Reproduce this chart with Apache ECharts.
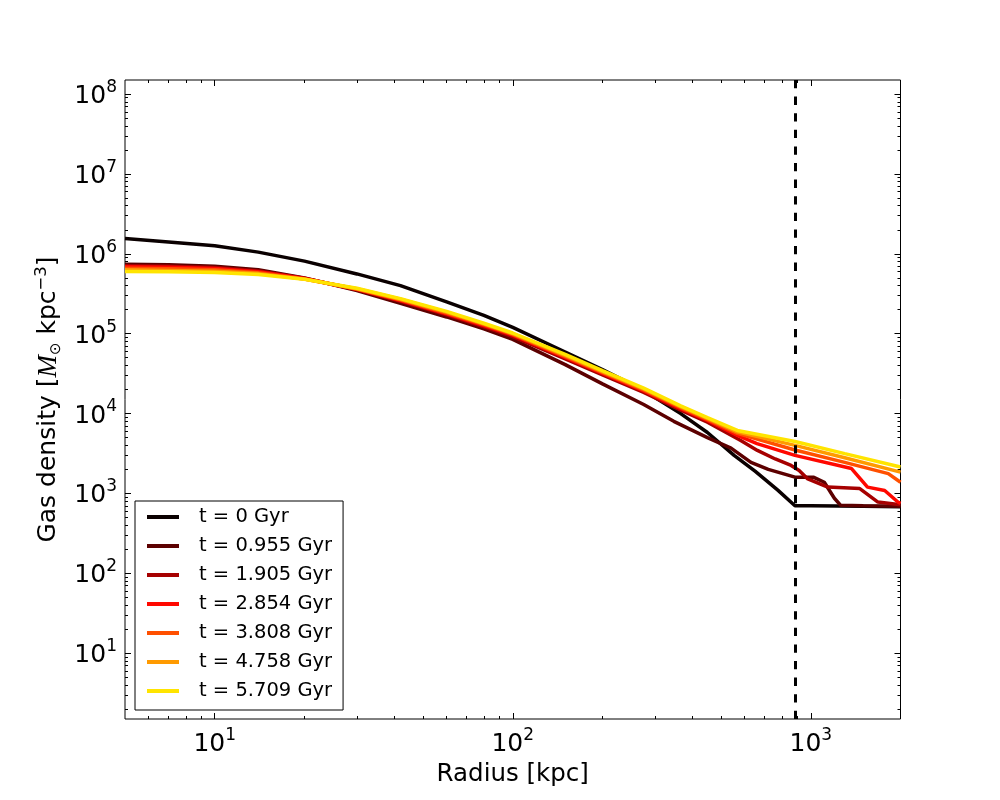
<!DOCTYPE html>
<html>
<head>
<meta charset="utf-8">
<script src="https://cdn.jsdelivr.net/npm/echarts@6/dist/echarts.min.js"></script>
<style>
  html, body { margin: 0; padding: 0; background: #fff; }
  #chart { width: 1000px; height: 800px; }
</style>
</head>
<body>
<div id="chart"></div>
<script>
// ==================== 数据 ====================

// 时间标签
const timeLabels = ['t = 0 Gyr', 't = 0.955 Gyr', 't = 1.905 Gyr', 't = 2.854 Gyr',
  't = 3.808 Gyr', 't = 4.758 Gyr', 't = 5.709 Gyr'];

// 颜色 (hot colormap)
const lineColors = ['#0a0000', '#5c0000', '#a60000', '#ff0800', '#ff5000', '#ff9a00', '#ffe400'];

// 每条曲线 [radius kpc, density Msun/kpc^3]
const profileT0 = [[5, 1.55e6], [7, 1.41e6], [10, 1.26e6], [14, 1.05e6], [20, 8.1e5], [30, 5.6e5],
  [42, 4.0e5], [60, 2.5e5], [80, 1.7e5], [100, 1.2e5], [150, 5.9e4], [200, 3.55e4], [275, 1.95e4],
  [366, 1.0e4], [450, 5.8e3], [553, 3.0e3], [650, 1.9e3], [775, 1.1e3], [885, 700], [1000, 700],
  [1500, 690], [2000, 680]];

const profileT1 = [[5, 7.4e5], [7, 7.3e5], [10, 7.0e5], [14, 6.3e5], [20, 5.0e5], [30, 3.47e5],
  [42, 2.4e5], [60, 1.62e5], [80, 1.15e5], [100, 8.5e4], [150, 4.1e4], [200, 2.35e4], [275, 1.3e4],
  [347, 8.0e3], [450, 5.0e3], [540, 3.7e3], [630, 2.45e3], [720, 2.0e3], [885, 1.6e3], [1024, 1.59e3],
  [1110, 1.38e3], [1200, 870], [1260, 710], [1500, 700], [2000, 690]];

const profileT2 = [[5, 7.1e5], [7, 7.0e5], [10, 6.75e5], [14, 6.1e5], [20, 4.95e5], [30, 3.55e5],
  [42, 2.55e5], [60, 1.72e5], [80, 1.22e5], [100, 9.2e4], [150, 4.85e4], [200, 3.05e4], [275, 1.84e4],
  [366, 1.1e4], [450, 7.8e3], [582, 4.6e3], [662, 3.46e3], [760, 2.7e3], [859, 2.24e3], [914, 1.94e3],
  [977, 1.52e3], [1140, 1.2e3], [1460, 1.15e3], [1680, 780], [2000, 720]];

const profileT3 = [[5, 6.9e5], [7, 6.8e5], [10, 6.55e5], [14, 5.95e5], [20, 4.9e5], [30, 3.6e5],
  [42, 2.6e5], [60, 1.77e5], [80, 1.26e5], [100, 9.6e4], [150, 5.05e4], [200, 3.18e4], [275, 1.92e4],
  [366, 1.15e4], [450, 8.2e3], [570, 5.3e3], [660, 4.2e3], [885, 3.0e3], [1370, 2.05e3],
  [1550, 1.2e3], [1770, 1.09e3], [1960, 780], [2000, 750]];

const profileT4 = [[5, 6.6e5], [7, 6.5e5], [10, 6.3e5], [14, 5.8e5], [20, 4.85e5], [30, 3.63e5],
  [42, 2.65e5], [60, 1.81e5], [80, 1.3e5], [100, 9.8e4], [150, 5.2e4], [200, 3.27e4], [275, 1.98e4],
  [366, 1.19e4], [450, 8.45e3], [567, 5.65e3], [885, 3.5e3], [1300, 2.45e3], [1820, 1.77e3],
  [2000, 1.38e3]];

const profileT5 = [[5, 6.3e5], [7, 6.2e5], [10, 6.05e5], [14, 5.65e5], [20, 4.82e5], [30, 3.66e5],
  [42, 2.7e5], [60, 1.86e5], [80, 1.33e5], [100, 1.0e5], [150, 5.35e4], [200, 3.35e4], [275, 2.03e4],
  [366, 1.22e4], [450, 8.7e3], [567, 5.9e3], [885, 4.0e3], [1300, 2.8e3], [2000, 1.85e3]];

const profileT6 = [[5, 6.0e5], [7, 5.95e5], [10, 5.85e5], [14, 5.5e5], [20, 4.8e5], [30, 3.7e5],
  [42, 2.75e5], [60, 1.9e5], [80, 1.35e5], [100, 1.02e5], [150, 5.5e4], [200, 3.45e4], [275, 2.08e4],
  [366, 1.25e4], [450, 8.9e3], [567, 6.15e3], [885, 4.47e3], [1300, 3.15e3], [2000, 2.14e3]];

const profiles = [profileT0, profileT1, profileT2, profileT3, profileT4, profileT5, profileT6];

// 虚线位置 (kpc)
const rVirial = 890;

// 坐标轴范围与刻度
const xRange = [5, 2000];
const yRange = [1.5, 1.5e8];
const xMajorTicks = [10, 100, 1000];
const yMajorTicks = [10, 100, 1e3, 1e4, 1e5, 1e6, 1e7, 1e8];

// 次刻度 2..9 x 10^n
function minorTicks(range) {
  const out = [];
  for (let n = -1; n <= 9; n++) {
    for (let k = 2; k <= 9; k++) {
      const v = k * Math.pow(10, n);
      if (v > range[0] && v < range[1]) out.push(v);
    }
  }
  return out;
}

// ==================== 图表 ====================

const FONT = 'DejaVu Sans';

function powLabel(v) {
  const e = Math.round(Math.log10(v));
  return '{b|10}{s|' + e + '}';
}

const labelRich = {
  b: { fontFamily: FONT, fontSize: 25, color: '#000', lineHeight: 30, verticalAlign: 'bottom' },
  s: { fontFamily: FONT, fontSize: 17, color: '#000', lineHeight: 17, verticalAlign: 'top' }
};

function makeAxis(kind, position, major, withLabel) {
  const range = kind === 'x' ? xRange : yRange;
  return {
    type: 'log',
    logBase: 10,
    position: position,
    min: range[0],
    max: range[1],
    axisLine: { show: false },
    splitLine: { show: false },
    minorTick: { show: false },
    axisTick: {
      show: true,
      inside: true,
      length: major ? 6 : 3,
      lineStyle: { color: '#000', width: 1 },
      customValues: major ? (kind === 'x' ? xMajorTicks : yMajorTicks) : minorTicks(range)
    },
    axisLabel: withLabel ? {
      show: true,
      margin: 8,
      customValues: kind === 'x' ? xMajorTicks : yMajorTicks,
      formatter: powLabel,
      rich: labelRich
    } : { show: false }
  };
}

const xAxes = [
  makeAxis('x', 'bottom', true, true),
  makeAxis('x', 'bottom', false, false),
  makeAxis('x', 'top', true, false),
  makeAxis('x', 'top', false, false)
];
Object.assign(xAxes[0], {
  name: 'Radius [kpc]',
  nameLocation: 'middle',
  nameGap: 36,
  nameTextStyle: { fontFamily: FONT, fontSize: 24.5, color: '#000' }
});

const yAxes = [
  makeAxis('y', 'left', true, true),
  makeAxis('y', 'left', false, false),
  makeAxis('y', 'right', true, false),
  makeAxis('y', 'right', false, false)
];
Object.assign(yAxes[0], {
  name: 'Gas density [{m|M}{o|⊙} kpc{e|−3}]',
  nameLocation: 'middle',
  nameRotate: 90,
  nameGap: 60,
  nameTextStyle: {
    fontFamily: FONT, fontSize: 25, color: '#000', lineHeight: 30,
    rich: {
      m: { fontFamily: 'Liberation Serif', fontStyle: 'italic', fontSize: 27, color: '#000', lineHeight: 30 },
      o: { fontFamily: FONT, fontSize: 15, color: '#000', lineHeight: 14, verticalAlign: 'bottom' },
      e: { fontFamily: FONT, fontSize: 16.5, color: '#000', lineHeight: 16, verticalAlign: 'top' }
    }
  }
});

const series = profiles.map((data, i) => ({
  name: timeLabels[i],
  type: 'line',
  data: data,
  symbol: 'none',
  showSymbol: false,
  xAxisIndex: 0,
  yAxisIndex: 0,
  color: lineColors[i],
  lineStyle: { color: lineColors[i], width: 3.5 },
  emphasis: { disabled: true },
  z: 2 + i * 0.01
}));

// 虚线 (从上往下画, 与原图虚线起点一致)
series.push({
  name: 'rvir',
  type: 'line',
  data: [],
  xAxisIndex: 0,
  yAxisIndex: 0,
  z: 5,
  markLine: {
    silent: true,
    symbol: 'none',
    label: { show: false },
    lineStyle: { color: '#000', width: 3, type: [8.3, 8.3] },
    emphasis: { disabled: true },
    data: [[{ coord: [rVirial, yRange[1]] }, { coord: [rVirial, yRange[0]] }]]
  }
});

const chart = echarts.init(document.getElementById('chart'));
chart.setOption({
  animation: false,
  backgroundColor: '#fff',
  grid: {
    left: 125, right: 99.5, top: 80, bottom: 81,
    show: true, borderColor: '#000', borderWidth: 1, backgroundColor: 'transparent'
  },
  legend: {
    data: timeLabels,
    orient: 'vertical',
    left: 135,
    top: 501,
    icon: 'rect',
    itemWidth: 32,
    itemHeight: 4,
    itemGap: 9,
    padding: [6, 11, 9, 12],
    borderColor: '#000',
    borderWidth: 1,
    borderRadius: 0,
    backgroundColor: '#fff',
    textStyle: { fontFamily: FONT, fontSize: 19.5, color: '#000', lineHeight: 20, padding: [0, 0, 0, 15] }
  },
  xAxis: xAxes,
  yAxis: yAxes,
  series: series
});
</script>
</body>
</html>
